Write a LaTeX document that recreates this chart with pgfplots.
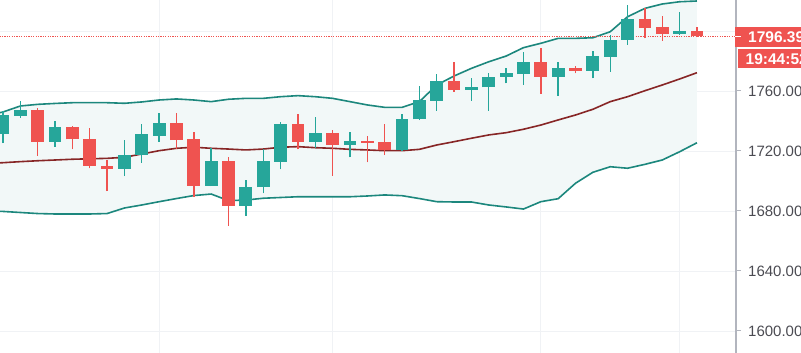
\documentclass[border=0pt]{standalone}
\usepackage{pgfplots}
\pgfplotsset{compat=1.18}
\usepackage{pgfplotstable}
\usepgfplotslibrary{fillbetween}
\usepackage{fontspec}
\setmainfont{Liberation Sans}
\definecolor{cgreen}{RGB}{38,166,154}
\definecolor{cred}{RGB}{239,83,80}
\definecolor{bandc}{RGB}{28,135,125}
\definecolor{midc}{RGB}{135,38,38}
\definecolor{bandfill}{RGB}{242,248,248}
\definecolor{gridc}{RGB}{240,242,245}
\definecolor{axisgray}{RGB}{178,181,190}
\definecolor{labelc}{RGB}{75,75,82}

\pgfplotstableread{
x o h l c
0 1731 1746.5 1725.2 1744
1 1743.5 1753.5 1742 1747.3
3 1726.2 1740.2 1722.9 1735.8
7 1708 1727.3 1703.3 1717.3
8 1717.3 1737.8 1712.2 1731.1
9 1730.2 1745.1 1726.2 1738.9
12 1696.9 1721.8 1696.5 1713.3
14 1683.6 1700.7 1676.9 1696.2
15 1695.8 1721.3 1691.8 1713.3
16 1712.9 1739.6 1707.8 1737.8
18 1726.2 1742.4 1721.8 1731.8
20 1724 1732.9 1715.8 1726.7
23 1720.7 1744.7 1720.2 1741.3
24 1741.1 1763.3 1740.5 1754
25 1753.5 1771.3 1746.9 1766.7
27 1760.7 1768.4 1753.6 1762.9
28 1762.4 1771.8 1746.9 1769.6
29 1769.6 1775.1 1765.1 1771.8
30 1771.3 1786.2 1764 1779.6
32 1769.6 1779.1 1756.7 1775.1
34 1773.5 1786.9 1768.4 1783.3
35 1782.9 1797.3 1772.9 1794
36 1794 1817.3 1790.7 1808
39 1798 1812.9 1797.5 1800.2
}\greentab

\pgfplotstableread{
x o h l c
2 1747.3 1748.5 1716.7 1726.2
4 1735.8 1736.5 1721.1 1727.8
5 1727.8 1735.1 1708.4 1710
6 1710 1714 1693.3 1708
10 1738.9 1745.1 1721.1 1727.3
11 1727.8 1732.5 1689.6 1696.7
13 1713.3 1715.8 1670.2 1683.6
17 1737.8 1744.7 1721.1 1726.2
19 1731.8 1734 1703.6 1724
21 1726.9 1730.2 1712.4 1725.6
22 1726.2 1738 1717.3 1720.7
26 1766.9 1779.1 1759.6 1760.7
31 1779.6 1788.9 1758 1769.6
33 1775.3 1776.7 1771.8 1773.5
37 1808 1815.1 1795.1 1802.2
38 1802.4 1810 1793.6 1798
40 1800.2 1802.4 1795.9 1796.39
}\redtab

\pgfplotstableread{
x up mid lo
-0.2 1745.5 1712.1 1679.8
0 1746 1712.2 1679.7
1 1750 1712.9 1679
2 1751.1 1713.5 1678.3
3 1751.7 1714 1678
4 1752.2 1714.5 1678
5 1752.2 1714.8 1678
6 1752.2 1715.1 1678.3
7 1751.8 1715.8 1682
8 1752.7 1718 1684
9 1754 1720.2 1686.2
10 1754.7 1721.8 1688.3
11 1754 1722.5 1690.3
12 1752.9 1721.8 1691.3
13 1754.5 1721.3 1686.9
14 1755.1 1720.7 1687.3
15 1755.1 1721.3 1688.5
16 1756.2 1722.5 1689
17 1756.9 1722.9 1689.5
18 1756.2 1722.2 1689.5
19 1755.1 1721.8 1689.5
20 1752.9 1721.1 1689.5
21 1750.7 1720.7 1690
22 1749.1 1720.2 1690.7
23 1749.1 1720.2 1690.2
24 1752.9 1721.1 1688.3
25 1764 1724 1686.2
26 1770 1726.2 1686
27 1775.1 1728.5 1686
28 1779.5 1730.7 1684
29 1783.3 1732.2 1682.7
30 1788.9 1734.5 1681.3
31 1791.8 1737.3 1686.2
32 1795.1 1740.7 1688.2
33 1795.1 1744 1698.5
34 1795.5 1747.8 1705.8
35 1799.5 1752.9 1709.5
36 1809.5 1756.2 1708.5
37 1815.1 1760.2 1711.1
38 1818 1764 1714
39 1819.5 1768 1719.5
40 1820 1772.2 1725.5
}\bands

\pgfplotsset{
  candle/.style 2 args={only marks, mark=*, mark options={draw opacity=0, fill opacity=0}, forget plot,
    error bars/.cd, y dir=plus, y explicit, error mark=none,
    error bar style={line width=#2, color=#1}},
}

\begin{document}
\begin{tikzpicture}
\begin{axis}[
  at={(0,0)}, anchor=south west,
  scale only axis, width=736pt, height=353pt,
  xmin=-0.173, xmax=42.25, ymin=1585.33, ymax=1820.67,
  axis y line*=right, axis x line*=bottom,
  x axis line style={draw=none},
  y axis line style={draw=axisgray, line width=1.5pt},
  xtick={9,19,31,39}, xticklabels={}, xtick style={draw=none},
  ytick={1600,1640,1680,1720,1760,1800},
  yticklabels={1600.00,1640.00,1680.00,1720.00,1760.00,{}},
  ytick style={draw=axisgray, line width=1pt},
  tick align=outside, major tick length=5pt,
  grid=major, major grid style={draw=gridc, line width=0.8pt},
  yticklabel style={font=\fontsize{15}{16}\selectfont, text=labelc, anchor=west, inner sep=0pt, xshift=7pt},
]
\addplot[draw=none, name path=U, forget plot] table[x=x, y=up] {\bands};
\addplot[draw=none, name path=L, forget plot] table[x=x, y=lo] {\bands};
\addplot[fill=bandfill, draw=none, forget plot] fill between[of=U and L];
\addplot[bandc, line width=1.6pt, forget plot] table[x=x, y=up] {\bands};
\addplot[bandc, line width=1.6pt, forget plot] table[x=x, y=lo] {\bands};
\addplot[midc, line width=1.6pt, forget plot] table[x=x, y=mid] {\bands};
\addplot[cred, line width=0.9pt, dash pattern=on 1.2pt off 1.2pt, forget plot] coordinates {(-0.2,1796.39) (42.3,1796.39)};
% wicks
\addplot[candle={cgreen}{1.4pt}] table[x=x, y=l, y error plus expr=\thisrow{h}-\thisrow{l}] {\greentab};
\addplot[candle={cred}{1.4pt}] table[x=x, y=l, y error plus expr=\thisrow{h}-\thisrow{l}] {\redtab};
% bodies
\addplot[candle={cgreen}{12.8pt}] table[x=x, y=o, y error plus expr=\thisrow{c}-\thisrow{o}] {\greentab};
\addplot[candle={cred}{12.8pt}] table[x=x, y=c, y error plus expr=\thisrow{o}-\thisrow{c}] {\redtab};
\end{axis}
\fill[cred] (735pt,305.7pt) rectangle (810pt,325.7pt);
\draw[white, line width=1pt] (735pt,316.6pt) -- (741pt,316.6pt);
\node[anchor=west, inner sep=0pt, text=white, font=\fontsize{15.5}{16}\selectfont\bfseries] at (748pt,315.7pt) {1796.39};
\fill[cred] (737.5pt,284.7pt) rectangle (810pt,303.7pt);
\node[anchor=west, inner sep=0pt, text=white, font=\fontsize{15.5}{16}\selectfont\bfseries] at (745.5pt,294.2pt) {19:44:52};
\pgfresetboundingbox
\useasboundingbox (0,0) rectangle (801pt,353pt);
\end{tikzpicture}
\end{document}
